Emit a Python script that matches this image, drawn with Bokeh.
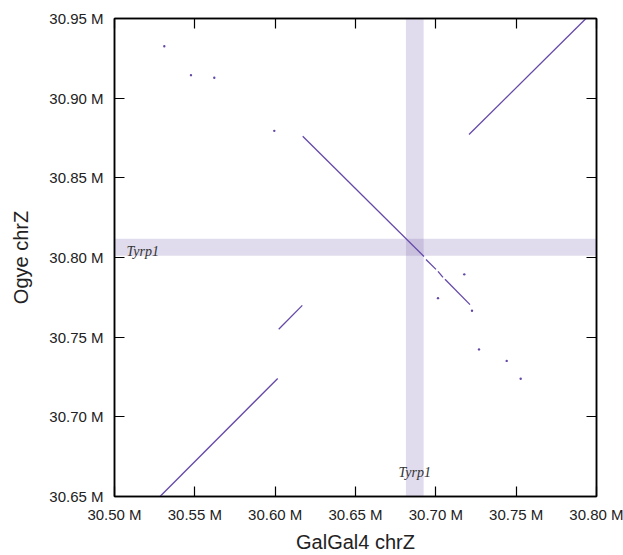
from bokeh.plotting import figure
from bokeh.models import (Range1d, FixedTicker, CustomJSTickFormatter, LinearAxis,
                          ColumnDataSource)
from bokeh.core.properties import value
from bokeh.embed import file_html
from bokeh.resources import INLINE

# ---- data (positions in Mb) ----
x_ticks = [30.50, 30.55, 30.60, 30.65, 30.70, 30.75, 30.80]
y_ticks = [30.65, 30.70, 30.75, 30.80, 30.85, 30.90, 30.95]

# alignment segments: GalGal4 chrZ (x) vs Ogye chrZ (y)
seg_x0 = [30.72064, 30.61714, 30.69388, 30.70134, 30.70570, 30.52832, 30.60220]
seg_y0 = [30.87718, 30.87612, 30.79876, 30.79129, 30.78631, 30.65000, 30.75500]
seg_x1 = [30.79346, 30.69263, 30.70010, 30.70445, 30.72126, 30.60158, 30.61689]
seg_y1 = [30.95000, 30.80063, 30.79253, 30.78755, 30.77044, 30.72407, 30.76994]

# short alignments (dots)
dot_x = [30.53100, 30.54760, 30.56211, 30.59946, 30.71771, 30.70134,
         30.72251, 30.72687, 30.74411, 30.75282]
dot_y = [30.93257, 30.91443, 30.91284, 30.87948, 30.78942, 30.77449,
         30.76658, 30.74231, 30.73509, 30.72388]

# Tyrp1 gene location
gene_name = "Tyrp1"
gene_x = [30.6814, 30.6924]   # on GalGal4 chrZ
gene_y = [30.8011, 30.8118]   # on Ogye chrZ

X_RANGE = (30.50, 30.80)
Y_RANGE = (30.65, 30.95)

LINE = "#6448a8"
BAND = "#6a51a3"

p = figure(width=623, height=555, output_backend="svg", toolbar_location=None,
           x_range=Range1d(*X_RANGE), y_range=Range1d(*Y_RANGE),
           min_border_left=114, min_border_top=18, min_border_right=27,
           min_border_bottom=55)
p.grid.visible = False
p.outline_line_color = "black"
p.outline_line_width = 1.5
p.background_fill_color = "white"
p.border_fill_color = "white"

fmt = CustomJSTickFormatter(code='return tick.toFixed(2) + " M";')
blank = CustomJSTickFormatter(code='return "";')

for ax, ticks in ((p.xaxis[0], x_ticks), (p.yaxis[0], y_ticks)):
    ax.ticker = FixedTicker(ticks=ticks)
    ax.formatter = fmt
    ax.major_tick_in = 10
    ax.major_tick_out = 0
    ax.minor_tick_line_color = None
    ax.axis_line_color = "black"
    ax.axis_line_width = 1.5
    ax.major_tick_line_color = "black"
    ax.major_tick_line_width = 1.2
    ax.major_label_text_font = "Liberation Sans"
    ax.major_label_text_font_size = "15px"
    ax.major_label_text_color = "#222222"
    ax.axis_label_text_font = "Liberation Sans"
    ax.axis_label_text_font_size = "20px"
    ax.axis_label_text_font_style = "normal"
    ax.axis_label_text_color = "#222222"

p.xaxis.axis_label = "GalGal4 chrZ"
p.yaxis.axis_label = "Ogye chrZ"
p.xaxis.major_label_standoff = 9
p.yaxis.major_label_standoff = 11
p.xaxis.axis_label_standoff = 5
p.yaxis.axis_label_standoff = 14

for loc, ticks in (("above", x_ticks), ("right", y_ticks)):
    ax = LinearAxis(ticker=FixedTicker(ticks=ticks), formatter=blank,
                    major_tick_in=10, major_tick_out=0,
                    minor_tick_line_color=None, axis_line_color="black",
                    axis_line_width=1.5, major_tick_line_color="black",
                    major_tick_line_width=1.2, major_label_text_font_size="0px",
                    major_label_standoff=0)
    p.add_layout(ax, loc)

# gene bands
p.quad(left=[gene_x[0]], right=[gene_x[1]], bottom=[Y_RANGE[0]], top=[Y_RANGE[1]],
       fill_color=BAND, fill_alpha=0.2, line_color=None)
p.quad(left=[X_RANGE[0]], right=[X_RANGE[1]], bottom=[gene_y[0]], top=[gene_y[1]],
       fill_color=BAND, fill_alpha=0.2, line_color=None)

# alignments
src = ColumnDataSource(dict(x0=seg_x0, y0=seg_y0, x1=seg_x1, y1=seg_y1))
p.segment(x0="x0", y0="y0", x1="x1", y1="y1", source=src,
          line_color=LINE, line_width=1.3)
p.scatter(x=dot_x, y=dot_y, size=2.4, marker="circle", fill_color=LINE,
          line_color=None)

# gene labels
p.text(x=[X_RANGE[0]], y=[gene_y[0]], text=[gene_name], x_offset=12, y_offset=-4,
       text_font=value("Liberation Serif"), text_font_style="italic",
       text_font_size="14px", text_color="#333333",
       text_align="left", text_baseline="alphabetic")
p.text(x=[(gene_x[0] + gene_x[1]) / 2], y=[Y_RANGE[0]], text=[gene_name],
       y_offset=-24, text_font=value("Liberation Serif"), text_font_style="italic",
       text_font_size="14px", text_color="#333333",
       text_align="center", text_baseline="alphabetic")

open("out.html", "w").write(file_html(p, INLINE))
